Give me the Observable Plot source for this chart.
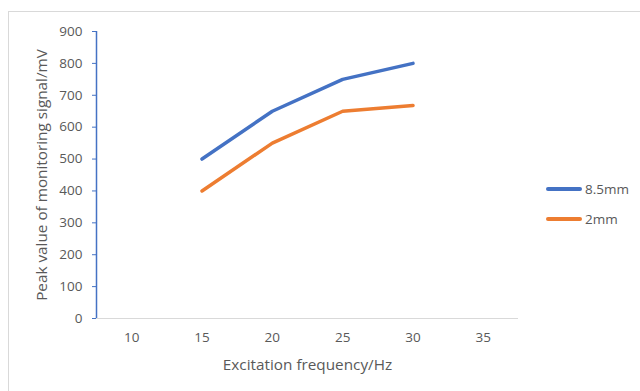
<!DOCTYPE html>
<html><head><meta charset="utf-8">
<script src="https://cdn.jsdelivr.net/npm/d3@7"></script>
<script src="https://cdn.jsdelivr.net/npm/@observablehq/plot@0.6"></script>
<style>
html,body{margin:0;padding:0;background:#fff;}
#wrap{position:relative;width:640px;height:391px;overflow:hidden;font-family:"Open Sans",sans-serif;color:#595959;}
#border{position:absolute;left:8px;top:11px;width:700px;height:500px;border:1px solid #d9d9d9;box-sizing:border-box;}
#chart{position:absolute;left:0;top:0;}
#legend{position:absolute;left:546px;top:174px;}
.item{display:flex;align-items:center;height:30px;font-size:13.5px;}
.sw{width:36px;height:4px;border-radius:2px;margin-right:3px;}
</style>
</head><body>
<div id="wrap"><div id="border"></div><div id="chart"></div><div id="legend"></div></div>
<script>
const frequencies = [15, 20, 25, 30];
const series = ["8.5mm", "2mm"];
const values85 = [500, 650, 750, 800];
const values2 = [400, 550, 650, 668];
const colors = ["#4472C4", "#ED7D31"];
const xTicks = [10, 15, 20, 25, 30, 35];
const yTicks = [0, 100, 200, 300, 400, 500, 600, 700, 800, 900];
const xDomain = [7.5, 37.5];
const yDomain = [0, 900];
const xTitle = "Excitation frequency/Hz";
const yTitle = "Peak value of monitoring signal/mV";

const data = [
  ...frequencies.map((f, i) => ({f, v: values85[i], s: series[0]})),
  ...frequencies.map((f, i) => ({f, v: values2[i], s: series[1]}))
];

const chart = Plot.plot({
  width: 640, height: 391,
  marginLeft: 96, marginRight: 122, marginTop: 31, marginBottom: 73,
  style: {fontFamily: "Open Sans, sans-serif", fontSize: "13.5px", color: "#595959", background: "transparent", overflow: "visible"},
  x: {domain: xDomain},
  y: {domain: yDomain},
  color: {domain: series, range: colors},
  marks: [
    Plot.ruleY([yDomain[0]], {stroke: "#d9d9d9", strokeWidth: 1.2}),
    Plot.ruleX([xDomain[0]], {stroke: "#4472C4", strokeWidth: 1.5}),
    Plot.axisY(yTicks, {tickSize: 4, tickPadding: 10, stroke: "#4472C4", fill: "#595959", label: null}),
    Plot.axisX(xTicks, {tickSize: 0, tickPadding: 14, fill: "#595959", label: null}),
    Plot.lineY(data, {x: "f", y: "v", z: "s", stroke: "s", strokeWidth: 3.5, strokeLinecap: "round", strokeLinejoin: "round"}),
    Plot.text([xTitle], {frameAnchor: "bottom", textAnchor: "middle", lineAnchor: "middle", dy: 47, fontSize: 15.3, fill: "#595959"}),
    Plot.text([yTitle], {frameAnchor: "left", textAnchor: "middle", lineAnchor: "middle", rotate: -90, dx: -54, fontSize: 15.3, fill: "#595959"})
  ]
});
document.getElementById("chart").appendChild(chart);

const legend = document.getElementById("legend");
series.forEach((s, i) => {
  const item = document.createElement("div");
  item.className = "item";
  const sw = document.createElement("div");
  sw.className = "sw";
  sw.style.background = colors[i];
  const t = document.createElement("span");
  t.textContent = s;
  item.appendChild(sw); item.appendChild(t);
  legend.appendChild(item);
});
</script>
</body></html>
